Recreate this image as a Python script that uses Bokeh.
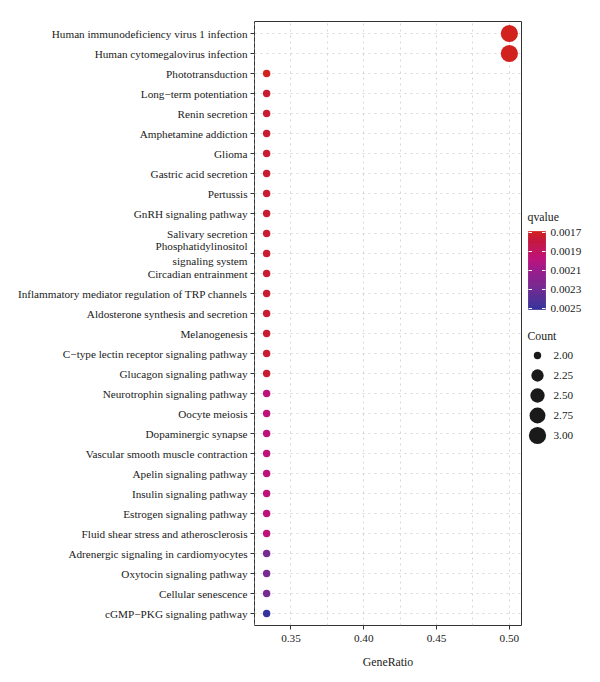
import numpy as np
from bokeh.plotting import figure
from bokeh.layouts import row
from bokeh.models import (Range1d, FactorRange, FixedTicker, LinearColorMapper,
                          ColumnDataSource, PrintfTickFormatter)
from bokeh.transform import transform
from bokeh.core.properties import value
from bokeh.embed import file_html
from bokeh.resources import INLINE

# ---------------- data ----------------
pathways = [
    "Human immunodeficiency virus 1 infection",
    "Human cytomegalovirus infection",
    "Phototransduction",
    "Long\u2212term potentiation",
    "Renin secretion",
    "Amphetamine addiction",
    "Glioma",
    "Gastric acid secretion",
    "Pertussis",
    "GnRH signaling pathway",
    "Salivary secretion",
    "Phosphatidylinositol\nsignaling system",
    "Circadian entrainment",
    "Inflammatory mediator regulation of TRP channels",
    "Aldosterone synthesis and secretion",
    "Melanogenesis",
    "C\u2212type lectin receptor signaling pathway",
    "Glucagon signaling pathway",
    "Neurotrophin signaling pathway",
    "Oocyte meiosis",
    "Dopaminergic synapse",
    "Vascular smooth muscle contraction",
    "Apelin signaling pathway",
    "Insulin signaling pathway",
    "Estrogen signaling pathway",
    "Fluid shear stress and atherosclerosis",
    "Adrenergic signaling in cardiomyocytes",
    "Oxytocin signaling pathway",
    "Cellular senescence",
    "cGMP\u2212PKG signaling pathway",
]
gene_ratio = [0.5, 0.5] + [0.3333] * 28
counts = [3, 3] + [2] * 28
qvalues = ([0.00169, 0.00169, 0.00169]
           + [0.00175] * 15
           + [0.00198] * 8
           + [0.00228] * 3
           + [0.00251])
x_ticks = [0.35, 0.40, 0.45, 0.50]
x_minor = [0.325, 0.375, 0.425, 0.475]
q_ticks = [0.0017, 0.0019, 0.0021, 0.0023, 0.0025]
q_tick_labels = ["0.0017", "0.0019", "0.0021", "0.0023", "0.0025"]
count_breaks = [2.00, 2.25, 2.50, 2.75, 3.00]
count_labels = ["2.00", "2.25", "2.50", "2.75", "3.00"]

# ---------------- styles ----------------
FONT = "Liberation Serif"
TXT = "#1a1a1a"
GRID = "#cdcdcd"
DASH = "2 4"

def hex2rgb(h):
    h = h.lstrip("#")
    return tuple(int(h[i:i + 2], 16) for i in (0, 2, 4))

anchors = [(0.0, "#d2221e"), (0.08, "#c81a34"), (0.35, "#be127a"),
           (0.5, "#9c1c8c"), (0.72, "#762a92"), (1.0, "#36349c")]
palette = []
for i in range(256):
    t = i / 255
    for (t0, c0), (t1, c1) in zip(anchors[:-1], anchors[1:]):
        if t0 <= t <= t1:
            f = (t - t0) / (t1 - t0)
            a, b = hex2rgb(c0), hex2rgb(c1)
            rgb = [round(a[k] + (b[k] - a[k]) * f) for k in range(3)]
            palette.append("#%02x%02x%02x" % tuple(rgb))
            break

q_low, q_high = min(qvalues), max(qvalues)
mapper = LinearColorMapper(palette=palette, low=q_low, high=q_high)

c_min, c_max = min(counts), max(counts)
def dot_size(c):
    return 7.4 + 9.8 * np.sqrt((c - c_min) / (c_max - c_min))

src = ColumnDataSource(dict(
    pathway=pathways, ratio=gene_ratio, count=counts, q=qvalues,
    size=[dot_size(c) for c in counts]))

# ---------------- layout geometry (page px) ----------------
TOP, FH, BOT = 21, 604, 49
LEFT, FW, RGT = 254, 267, 4
LEG_W = 70

# ---------------- main plot ----------------
xr_pad = (max(gene_ratio) - min(gene_ratio)) * 0.05
p = figure(
    x_range=Range1d(min(gene_ratio) - xr_pad, max(gene_ratio) + xr_pad),
    y_range=FactorRange(factors=pathways[::-1], range_padding=0.1,
                        range_padding_units="absolute"),
    frame_width=FW, frame_height=FH,
    min_border_left=LEFT, min_border_right=RGT, min_border_top=TOP, min_border_bottom=BOT,
    output_backend="svg", toolbar_location=None,
    background_fill_color="white", border_fill_color="white",
)
p.outline_line_color = "#333333"
p.outline_line_width = 1

p.xaxis.ticker = FixedTicker(ticks=x_ticks, minor_ticks=x_minor)
p.xaxis.formatter = PrintfTickFormatter(format="%.2f")
p.xaxis.axis_label = "GeneRatio"
p.xaxis.axis_label_text_font = FONT
p.xaxis.axis_label_text_font_size = "11.8px"
p.xaxis.axis_label_text_font_style = "normal"
p.xaxis.axis_label_text_color = TXT
p.xaxis.axis_label_standoff = 10

for ax in (p.xaxis, p.yaxis):
    ax.axis_line_color = None
    ax.major_tick_line_color = "#333333"
    ax.major_tick_out = 4
    ax.major_tick_in = 0
    ax.minor_tick_line_color = None
    ax.major_label_text_font = FONT
    ax.major_label_text_font_size = "11.2px"
    ax.major_label_text_color = TXT
    ax.major_label_standoff = 3
p.xaxis.major_label_standoff = 5

p.xgrid.grid_line_color = GRID
p.xgrid.grid_line_dash = DASH
p.xgrid.grid_line_width = 0.8
p.xgrid.minor_grid_line_color = GRID
p.xgrid.minor_grid_line_dash = DASH
p.xgrid.minor_grid_line_width = 0.8
p.ygrid.grid_line_color = GRID
p.ygrid.grid_line_dash = DASH
p.ygrid.grid_line_width = 0.8

p.scatter(x="ratio", y="pathway", size="size", source=src,
          fill_color=transform("q", mapper), line_color=None)

# ---------------- legend panel (coordinates = page px) ----------------
x0_page = LEFT + FW + RGT
lg = figure(x_range=Range1d(x0_page, x0_page + LEG_W),
            y_range=Range1d(TOP + FH, TOP),
            frame_width=LEG_W, frame_height=FH,
            min_border_left=0, min_border_right=0,
            min_border_top=TOP, min_border_bottom=BOT,
            output_backend="svg", toolbar_location=None)
lg.axis.visible = False
lg.grid.visible = False
lg.outline_line_color = None

bar_x0, bar_x1, bar_top, bar_h = 528, 545, 231, 78
tick_span = (bar_h - 2) / (q_ticks[-1] - q_ticks[0])
def q_to_y(q):
    return bar_top + 1 + (q - q_ticks[0]) * tick_span

n = 150
qs = np.linspace(q_low, q_high, n + 1)
ys = [q_to_y(q) for q in qs]
strip = ColumnDataSource(dict(
    top=ys[:-1], bottom=ys[1:], q=list((qs[:-1] + qs[1:]) / 2)))
lg.quad(left=bar_x0, right=bar_x1, top="top", bottom="bottom", source=strip,
        fill_color=transform("q", mapper), line_color=transform("q", mapper),
        line_width=0.6)
ty = [q_to_y(q) for q in q_ticks]
lg.segment(x0=[bar_x0] * 5, x1=[bar_x0 + 3.5] * 5, y0=ty, y1=ty,
           line_color="white", line_width=1)
lg.segment(x0=[bar_x1 - 3.5] * 5, x1=[bar_x1] * 5, y0=ty, y1=ty,
           line_color="white", line_width=1)

def ltext(xs, ys_, texts, size="11.2px"):
    lg.text(x=xs, y=ys_, text=texts, text_font=value(FONT),
            text_font_size=size, text_color=TXT, text_baseline="middle",
            text_align="left")

ltext([bar_x0 - 1], [216], ["qvalue"], "11.8px")
ltext([550] * 5, ty, q_tick_labels)

ltext([bar_x0 - 1], [335], ["Count"], "11.8px")
cy = [355 + 20 * i for i in range(len(count_breaks))]
lg.scatter(x=[537] * 5, y=cy, size=[dot_size(c) for c in count_breaks],
           fill_color="#1a1a1a", line_color=None)
ltext([553] * 5, cy, count_labels)

layout = row(p, lg)
open("out.html", "w").write(file_html(layout, INLINE))
